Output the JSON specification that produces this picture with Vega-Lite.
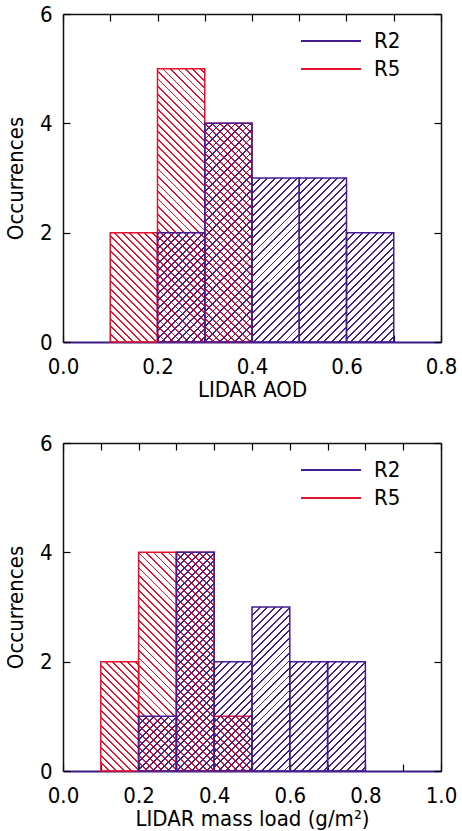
{
  "$schema": "https://vega.github.io/schema/vega-lite/v6.json",
  "padding": {"left": 4, "top": 3, "right": 5, "bottom": 5},
  "config": {
    "font": "Liberation Sans Narrow, DejaVu Sans Condensed, sans-serif",
    "view": {"stroke": null},
    "axis": {"labelFontSize": 22, "titleFontSize": 22, "titleFontWeight": "normal", "labelColor": "#000", "titleColor": "#000", "tickColor": "#000", "domainColor": "#111", "tickSize": -7, "domainWidth": 1.5, "tickWidth": 1.2, "grid": false, "labelFlush": false, "labelOverlap": false},
    "legend": {"labelFontSize": 22}
  },
  "params": [
    {"name": "hp", "value": "#461c92"},
    {"name": "hr", "value": "#e8112d"},
    {"name": "ht", "value": "transparent"},
    {"name": "S2", "expr": "[{offset:0,color:hp},{offset:.0059,color:hp},{offset:.0059,color:ht},{offset:.0233,color:ht},{offset:.0233,color:hp},{offset:.0292,color:hp},{offset:.0292,color:ht},{offset:.0465,color:ht},{offset:.0465,color:hp},{offset:.0524,color:hp},{offset:.0524,color:ht},{offset:.0698,color:ht},{offset:.0698,color:hp},{offset:.0757,color:hp},{offset:.0757,color:ht},{offset:.093,color:ht},{offset:.093,color:hp},{offset:.0989,color:hp},{offset:.0989,color:ht},{offset:.1163,color:ht},{offset:.1163,color:hp},{offset:.1222,color:hp},{offset:.1222,color:ht},{offset:.1395,color:ht},{offset:.1395,color:hp},{offset:.1454,color:hp},{offset:.1454,color:ht},{offset:.1628,color:ht},{offset:.1628,color:hp},{offset:.1687,color:hp},{offset:.1687,color:ht},{offset:.186,color:ht},{offset:.186,color:hp},{offset:.1919,color:hp},{offset:.1919,color:ht},{offset:.2093,color:ht},{offset:.2093,color:hp},{offset:.2152,color:hp},{offset:.2152,color:ht},{offset:.2326,color:ht},{offset:.2326,color:hp},{offset:.2385,color:hp},{offset:.2385,color:ht},{offset:.2558,color:ht},{offset:.2558,color:hp},{offset:.2617,color:hp},{offset:.2617,color:ht},{offset:.2791,color:ht},{offset:.2791,color:hp},{offset:.285,color:hp},{offset:.285,color:ht},{offset:.3023,color:ht},{offset:.3023,color:hp},{offset:.3082,color:hp},{offset:.3082,color:ht},{offset:.3256,color:ht},{offset:.3256,color:hp},{offset:.3315,color:hp},{offset:.3315,color:ht},{offset:.3488,color:ht},{offset:.3488,color:hp},{offset:.3547,color:hp},{offset:.3547,color:ht},{offset:.3721,color:ht},{offset:.3721,color:hp},{offset:.378,color:hp},{offset:.378,color:ht},{offset:.3953,color:ht},{offset:.3953,color:hp},{offset:.4012,color:hp},{offset:.4012,color:ht},{offset:.4186,color:ht},{offset:.4186,color:hp},{offset:.4245,color:hp},{offset:.4245,color:ht},{offset:.4419,color:ht},{offset:.4419,color:hp},{offset:.4478,color:hp},{offset:.4478,color:ht},{offset:.4651,color:ht},{offset:.4651,color:hp},{offset:.471,color:hp},{offset:.471,color:ht},{offset:.4884,color:ht},{offset:.4884,color:hp},{offset:.4943,color:hp},{offset:.4943,color:ht},{offset:.5116,color:ht},{offset:.5116,color:hp},{offset:.5175,color:hp},{offset:.5175,color:ht},{offset:.5349,color:ht},{offset:.5349,color:hp},{offset:.5408,color:hp},{offset:.5408,color:ht},{offset:.5581,color:ht},{offset:.5581,color:hp},{offset:.564,color:hp},{offset:.564,color:ht},{offset:.5814,color:ht},{offset:.5814,color:hp},{offset:.5873,color:hp},{offset:.5873,color:ht},{offset:.6047,color:ht},{offset:.6047,color:hp},{offset:.6106,color:hp},{offset:.6106,color:ht},{offset:.6279,color:ht},{offset:.6279,color:hp},{offset:.6338,color:hp},{offset:.6338,color:ht},{offset:.6512,color:ht},{offset:.6512,color:hp},{offset:.6571,color:hp},{offset:.6571,color:ht},{offset:.6744,color:ht},{offset:.6744,color:hp},{offset:.6803,color:hp},{offset:.6803,color:ht},{offset:.6977,color:ht},{offset:.6977,color:hp},{offset:.7036,color:hp},{offset:.7036,color:ht},{offset:.7209,color:ht},{offset:.7209,color:hp},{offset:.7268,color:hp},{offset:.7268,color:ht},{offset:.7442,color:ht},{offset:.7442,color:hp},{offset:.7501,color:hp},{offset:.7501,color:ht},{offset:.7674,color:ht},{offset:.7674,color:hp},{offset:.7733,color:hp},{offset:.7733,color:ht},{offset:.7907,color:ht},{offset:.7907,color:hp},{offset:.7966,color:hp},{offset:.7966,color:ht},{offset:.814,color:ht},{offset:.814,color:hp},{offset:.8199,color:hp},{offset:.8199,color:ht},{offset:.8372,color:ht},{offset:.8372,color:hp},{offset:.8431,color:hp},{offset:.8431,color:ht},{offset:.8605,color:ht},{offset:.8605,color:hp},{offset:.8664,color:hp},{offset:.8664,color:ht},{offset:.8837,color:ht},{offset:.8837,color:hp},{offset:.8896,color:hp},{offset:.8896,color:ht},{offset:.907,color:ht},{offset:.907,color:hp},{offset:.9129,color:hp},{offset:.9129,color:ht},{offset:.9302,color:ht},{offset:.9302,color:hp},{offset:.9361,color:hp},{offset:.9361,color:ht},{offset:.9535,color:ht},{offset:.9535,color:hp},{offset:.9594,color:hp},{offset:.9594,color:ht},{offset:.9767,color:ht},{offset:.9767,color:hp},{offset:.9826,color:hp},{offset:.9826,color:ht}]"},
    {"name": "S5", "expr": "[{offset:0,color:hr},{offset:.0059,color:hr},{offset:.0059,color:ht},{offset:.0233,color:ht},{offset:.0233,color:hr},{offset:.0292,color:hr},{offset:.0292,color:ht},{offset:.0465,color:ht},{offset:.0465,color:hr},{offset:.0524,color:hr},{offset:.0524,color:ht},{offset:.0698,color:ht},{offset:.0698,color:hr},{offset:.0757,color:hr},{offset:.0757,color:ht},{offset:.093,color:ht},{offset:.093,color:hr},{offset:.0989,color:hr},{offset:.0989,color:ht},{offset:.1163,color:ht},{offset:.1163,color:hr},{offset:.1222,color:hr},{offset:.1222,color:ht},{offset:.1395,color:ht},{offset:.1395,color:hr},{offset:.1454,color:hr},{offset:.1454,color:ht},{offset:.1628,color:ht},{offset:.1628,color:hr},{offset:.1687,color:hr},{offset:.1687,color:ht},{offset:.186,color:ht},{offset:.186,color:hr},{offset:.1919,color:hr},{offset:.1919,color:ht},{offset:.2093,color:ht},{offset:.2093,color:hr},{offset:.2152,color:hr},{offset:.2152,color:ht},{offset:.2326,color:ht},{offset:.2326,color:hr},{offset:.2385,color:hr},{offset:.2385,color:ht},{offset:.2558,color:ht},{offset:.2558,color:hr},{offset:.2617,color:hr},{offset:.2617,color:ht},{offset:.2791,color:ht},{offset:.2791,color:hr},{offset:.285,color:hr},{offset:.285,color:ht},{offset:.3023,color:ht},{offset:.3023,color:hr},{offset:.3082,color:hr},{offset:.3082,color:ht},{offset:.3256,color:ht},{offset:.3256,color:hr},{offset:.3315,color:hr},{offset:.3315,color:ht},{offset:.3488,color:ht},{offset:.3488,color:hr},{offset:.3547,color:hr},{offset:.3547,color:ht},{offset:.3721,color:ht},{offset:.3721,color:hr},{offset:.378,color:hr},{offset:.378,color:ht},{offset:.3953,color:ht},{offset:.3953,color:hr},{offset:.4012,color:hr},{offset:.4012,color:ht},{offset:.4186,color:ht},{offset:.4186,color:hr},{offset:.4245,color:hr},{offset:.4245,color:ht},{offset:.4419,color:ht},{offset:.4419,color:hr},{offset:.4478,color:hr},{offset:.4478,color:ht},{offset:.4651,color:ht},{offset:.4651,color:hr},{offset:.471,color:hr},{offset:.471,color:ht},{offset:.4884,color:ht},{offset:.4884,color:hr},{offset:.4943,color:hr},{offset:.4943,color:ht},{offset:.5116,color:ht},{offset:.5116,color:hr},{offset:.5175,color:hr},{offset:.5175,color:ht},{offset:.5349,color:ht},{offset:.5349,color:hr},{offset:.5408,color:hr},{offset:.5408,color:ht},{offset:.5581,color:ht},{offset:.5581,color:hr},{offset:.564,color:hr},{offset:.564,color:ht},{offset:.5814,color:ht},{offset:.5814,color:hr},{offset:.5873,color:hr},{offset:.5873,color:ht},{offset:.6047,color:ht},{offset:.6047,color:hr},{offset:.6106,color:hr},{offset:.6106,color:ht},{offset:.6279,color:ht},{offset:.6279,color:hr},{offset:.6338,color:hr},{offset:.6338,color:ht},{offset:.6512,color:ht},{offset:.6512,color:hr},{offset:.6571,color:hr},{offset:.6571,color:ht},{offset:.6744,color:ht},{offset:.6744,color:hr},{offset:.6803,color:hr},{offset:.6803,color:ht},{offset:.6977,color:ht},{offset:.6977,color:hr},{offset:.7036,color:hr},{offset:.7036,color:ht},{offset:.7209,color:ht},{offset:.7209,color:hr},{offset:.7268,color:hr},{offset:.7268,color:ht},{offset:.7442,color:ht},{offset:.7442,color:hr},{offset:.7501,color:hr},{offset:.7501,color:ht},{offset:.7674,color:ht},{offset:.7674,color:hr},{offset:.7733,color:hr},{offset:.7733,color:ht},{offset:.7907,color:ht},{offset:.7907,color:hr},{offset:.7966,color:hr},{offset:.7966,color:ht},{offset:.814,color:ht},{offset:.814,color:hr},{offset:.8199,color:hr},{offset:.8199,color:ht},{offset:.8372,color:ht},{offset:.8372,color:hr},{offset:.8431,color:hr},{offset:.8431,color:ht},{offset:.8605,color:ht},{offset:.8605,color:hr},{offset:.8664,color:hr},{offset:.8664,color:ht},{offset:.8837,color:ht},{offset:.8837,color:hr},{offset:.8896,color:hr},{offset:.8896,color:ht},{offset:.907,color:ht},{offset:.907,color:hr},{offset:.9129,color:hr},{offset:.9129,color:ht},{offset:.9302,color:ht},{offset:.9302,color:hr},{offset:.9361,color:hr},{offset:.9361,color:ht},{offset:.9535,color:ht},{offset:.9535,color:hr},{offset:.9594,color:hr},{offset:.9594,color:ht},{offset:.9767,color:ht},{offset:.9767,color:hr},{offset:.9826,color:hr},{offset:.9826,color:ht}]"}
  ],
  "datasets": {
    "t5": [
      {"bin_start": 0.1, "bin_end": 0.2, "count": 2, "series": "R5"},
      {"bin_start": 0.2, "bin_end": 0.3, "count": 5, "series": "R5"},
      {"bin_start": 0.3, "bin_end": 0.4, "count": 4, "series": "R5"}
    ],
    "t2": [
      {"bin_start": 0.2, "bin_end": 0.3, "count": 2, "series": "R2"},
      {"bin_start": 0.3, "bin_end": 0.4, "count": 4, "series": "R2"},
      {"bin_start": 0.4, "bin_end": 0.5, "count": 3, "series": "R2"},
      {"bin_start": 0.5, "bin_end": 0.6, "count": 3, "series": "R2"},
      {"bin_start": 0.6, "bin_end": 0.7, "count": 2, "series": "R2"}
    ],
    "b5": [
      {"bin_start": 0.1, "bin_end": 0.2, "count": 2, "series": "R5"},
      {"bin_start": 0.2, "bin_end": 0.3, "count": 4, "series": "R5"},
      {"bin_start": 0.3, "bin_end": 0.4, "count": 4, "series": "R5"},
      {"bin_start": 0.4, "bin_end": 0.5, "count": 1, "series": "R5"}
    ],
    "b2": [
      {"bin_start": 0.2, "bin_end": 0.3, "count": 1, "series": "R2"},
      {"bin_start": 0.3, "bin_end": 0.4, "count": 4, "series": "R2"},
      {"bin_start": 0.4, "bin_end": 0.5, "count": 2, "series": "R2"},
      {"bin_start": 0.5, "bin_end": 0.6, "count": 3, "series": "R2"},
      {"bin_start": 0.6, "bin_end": 0.7, "count": 2, "series": "R2"},
      {"bin_start": 0.7, "bin_end": 0.8, "count": 2, "series": "R2"}
    ]
  },
  "spacing": 32,
  "resolve": {"scale": {"stroke": "independent"}, "legend": {"stroke": "independent"}},
  "vconcat": [
    {
      "width": 378, "height": 328,
      "resolve": {"axis": {"x": "independent", "y": "independent"}},
      "layer": [
        {
          "data": {"name": "t5"},
          "mark": {"type": "rect", "strokeWidth": 1.5, "fill": {"expr": "{gradient:'linear',x1:0,y1:1,x2:15238/(2232.6+2988.5*datum.count*datum.count),y2:1-17630*datum.count/(2232.6+2988.5*datum.count*datum.count),stops:S5}"}},
          "encoding": {
            "x": {"field": "bin_start", "type": "quantitative", "scale": {"domain": [0, 0.8], "nice": false, "zero": false},
                  "axis": {"orient": "bottom", "values": [0, 0.1, 0.2, 0.3, 0.4, 0.5, 0.6, 0.7, 0.8], "labelExpr": "round(datum.value*10)%2==0 ? format(datum.value,'.1f') : ''", "title": "LIDAR AOD", "labelPadding": 21, "titlePadding": 2, "domainColor": "#3b1a86", "domainWidth": 2}},
            "x2": {"field": "bin_end"},
            "y": {"field": "count", "type": "quantitative", "scale": {"domain": [0, 6], "nice": false},
                  "axis": {"orient": "left", "values": [0, 2, 4, 6], "title": "Occurrences", "labelPadding": 18, "titlePadding": 12}},
            "y2": {"datum": 0},
            "stroke": {"field": "series", "type": "nominal", "scale": {"domain": ["R2", "R5"], "range": ["#461c92", "#e8112d"]},
                       "legend": {"title": null, "orient": "none", "legendX": 257, "legendY": 16, "symbolType": "M-30,0H30", "symbolSize": 4, "symbolStrokeWidth": 2, "labelOffset": 32, "rowPadding": 6,
                                  "encode": {"labels": {"update": {"fill": {"signal": "datum.value === 'R2' ? '#461c92' : '#e8112d'"}}}, "symbols": {"update": {"fill": {"value": "transparent"}}}}}}
          }
        },
        {
          "data": {"name": "t2"},
          "mark": {"type": "rect", "strokeWidth": 1.5, "fill": {"expr": "{gradient:'linear',x1:0,y1:0,x2:15238/(2232.6+2988.5*datum.count*datum.count),y2:17630*datum.count/(2232.6+2988.5*datum.count*datum.count),stops:S2}"}},
          "encoding": {
            "x": {"field": "bin_start", "type": "quantitative", "axis": {"orient": "top", "values": [0, 0.1, 0.2, 0.3, 0.4, 0.5, 0.6, 0.7, 0.8], "labels": false, "title": null}},
            "x2": {"field": "bin_end"},
            "y": {"field": "count", "type": "quantitative", "axis": {"orient": "right", "values": [0, 2, 4, 6], "labels": false, "title": null}},
            "y2": {"datum": 0},
            "stroke": {"field": "series", "type": "nominal", "scale": {"domain": ["R2", "R5"], "range": ["#461c92", "#e8112d"]},
                       "legend": {"title": null, "orient": "none", "legendX": 257, "legendY": 16, "symbolType": "M-30,0H30", "symbolSize": 4, "symbolStrokeWidth": 2, "labelOffset": 32, "rowPadding": 6,
                                  "encode": {"labels": {"update": {"fill": {"signal": "datum.value === 'R2' ? '#461c92' : '#e8112d'"}}}, "symbols": {"update": {"fill": {"value": "transparent"}}}}}}
          }
        }
      ]
    },
    {
      "width": 378, "height": 328,
      "resolve": {"axis": {"x": "independent", "y": "independent"}},
      "layer": [
        {
          "data": {"name": "b5"},
          "mark": {"type": "rect", "strokeWidth": 1.5, "fill": {"expr": "{gradient:'linear',x1:0,y1:1,x2:12190/(1428.8+2988.5*datum.count*datum.count),y2:1-17630*datum.count/(1428.8+2988.5*datum.count*datum.count),stops:S5}"}},
          "encoding": {
            "x": {"field": "bin_start", "type": "quantitative", "scale": {"domain": [0, 1], "nice": false, "zero": false},
                  "axis": {"orient": "bottom", "values": [0, 0.1, 0.2, 0.3, 0.4, 0.5, 0.6, 0.7, 0.8, 0.9, 1], "labelExpr": "round(datum.value*10)%2==0 ? format(datum.value,'.1f') : ''", "title": "LIDAR mass load (g/m²)", "labelPadding": 21, "titlePadding": 2, "domainColor": "#3b1a86", "domainWidth": 2}},
            "x2": {"field": "bin_end"},
            "y": {"field": "count", "type": "quantitative", "scale": {"domain": [0, 6], "nice": false},
                  "axis": {"orient": "left", "values": [0, 2, 4, 6], "title": "Occurrences", "labelPadding": 18, "titlePadding": 12}},
            "y2": {"datum": 0},
            "stroke": {"field": "series", "type": "nominal", "scale": {"domain": ["R2", "R5"], "range": ["#461c92", "#e8112d"]},
                       "legend": {"title": null, "orient": "none", "legendX": 257, "legendY": 16, "symbolType": "M-30,0H30", "symbolSize": 4, "symbolStrokeWidth": 2, "labelOffset": 32, "rowPadding": 6,
                                  "encode": {"labels": {"update": {"fill": {"signal": "datum.value === 'R2' ? '#461c92' : '#e8112d'"}}}, "symbols": {"update": {"fill": {"value": "transparent"}}}}}}
          }
        },
        {
          "data": {"name": "b2"},
          "mark": {"type": "rect", "strokeWidth": 1.5, "fill": {"expr": "{gradient:'linear',x1:0,y1:0,x2:12190/(1428.8+2988.5*datum.count*datum.count),y2:17630*datum.count/(1428.8+2988.5*datum.count*datum.count),stops:S2}"}},
          "encoding": {
            "x": {"field": "bin_start", "type": "quantitative", "axis": {"orient": "top", "values": [0, 0.1, 0.2, 0.3, 0.4, 0.5, 0.6, 0.7, 0.8, 0.9, 1], "labels": false, "title": null}},
            "x2": {"field": "bin_end"},
            "y": {"field": "count", "type": "quantitative", "axis": {"orient": "right", "values": [0, 2, 4, 6], "labels": false, "title": null}},
            "y2": {"datum": 0},
            "stroke": {"field": "series", "type": "nominal", "scale": {"domain": ["R2", "R5"], "range": ["#461c92", "#e8112d"]},
                       "legend": {"title": null, "orient": "none", "legendX": 257, "legendY": 16, "symbolType": "M-30,0H30", "symbolSize": 4, "symbolStrokeWidth": 2, "labelOffset": 32, "rowPadding": 6,
                                  "encode": {"labels": {"update": {"fill": {"signal": "datum.value === 'R2' ? '#461c92' : '#e8112d'"}}}, "symbols": {"update": {"fill": {"value": "transparent"}}}}}}
          }
        }
      ]
    }
  ]
}
